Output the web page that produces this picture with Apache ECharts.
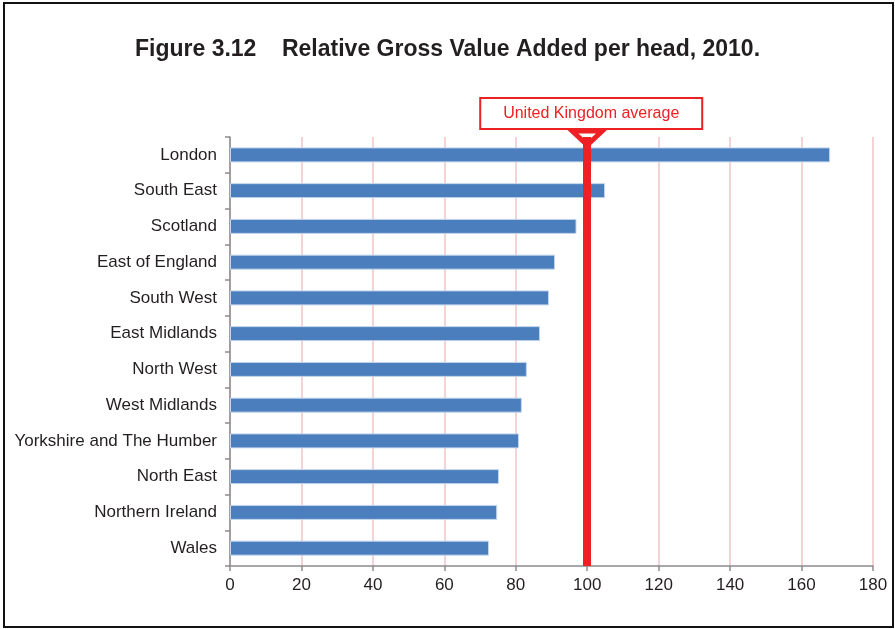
<!DOCTYPE html>
<html>
<head>
<meta charset="utf-8">
<script src="https://cdn.jsdelivr.net/npm/echarts@6/dist/echarts.min.js"></script>
<style>
  html, body { margin: 0; padding: 0; background: #fff; }
  #chart { width: 895px; height: 629px; }
</style>
</head>
<body>
<div id="chart"></div>
<script>
// Regions, top to bottom
const regions = [
  'London', 'South East', 'Scotland', 'East of England', 'South West',
  'East Midlands', 'North West', 'West Midlands', 'Yorkshire and The Humber',
  'North East', 'Northern Ireland', 'Wales'
];
// Gross Value Added per head, UK = 100
const gvaIndex = [168, 105, 97, 91, 89.3, 86.8, 83.1, 81.7, 80.9, 75.3, 74.8, 72.5];
const ukAverage = 100;
const axisMin = 0;
const axisMax = 180;
const axisStep = 20;

const FONT = '"Liberation Sans", Arial, Helvetica, sans-serif';
const RED = '#ed2024';

const chart = echarts.init(document.getElementById('chart'), null, { renderer: 'canvas' });

const option = {
  backgroundColor: '#ffffff',
  animation: false,
  title: {
    text: 'Figure 3.12    Relative Gross Value Added per head, 2010.',
    left: 'center',
    top: 33,
    textStyle: { fontFamily: FONT, fontSize: 23, fontWeight: 'bold', color: '#231f20' }
  },
  grid: { left: 230, right: 22, top: 137, bottom: 63, containLabel: false },
  xAxis: {
    type: 'value',
    min: axisMin,
    max: axisMax,
    interval: axisStep,
    axisLine: { show: true, lineStyle: { color: '#8c8c8c', width: 1.5 } },
    axisTick: { show: true, length: 5, lineStyle: { color: '#8c8c8c', width: 1.5 } },
    axisLabel: { fontFamily: FONT, fontSize: 17, color: '#231f20', margin: 11 },
    splitLine: { show: true, lineStyle: { color: '#efc4c4', width: 1.5 } }
  },
  yAxis: {
    type: 'category',
    data: regions,
    inverse: true,
    axisLine: { show: true, lineStyle: { color: '#8c8c8c', width: 1.5 } },
    axisTick: { show: true, length: 5, lineStyle: { color: '#8c8c8c', width: 1.5 } },
    axisLabel: { fontFamily: FONT, fontSize: 17, color: '#231f20', margin: 13 },
    splitLine: { show: false }
  },
  series: [{
    type: 'bar',
    data: gvaIndex,
    barWidth: 15,
    itemStyle: { color: '#4a7ebd', borderColor: '#c5d6ec', borderWidth: 1 },
    markLine: {
      silent: true,
      symbol: ['none', 'none'],
      label: { show: false },
      lineStyle: { color: RED, width: 8, type: 'solid' },
      data: [{ xAxis: ukAverage }]
    },
    z: 2
  }]
};

chart.setOption(option);

// Annotation: labelled box with a downward pointer above the average line
const px = chart.convertToPixel({ xAxisIndex: 0 }, ukAverage);
const gridTop = 137;
const boxW = 222, boxH = 31;
const boxBottom = gridTop - 8;

chart.setOption({
  graphic: [
    {
      type: 'rect',
      z: 100,
      shape: { x: 4, y: 3, width: 889, height: 624 },
      style: { fill: 'none', stroke: '#111', lineWidth: 2 }
    },
    {
      type: 'rect',
      z: 100,
      shape: { x: px - boxW / 2 + 4, y: boxBottom - boxH, width: boxW, height: boxH },
      style: { fill: '#fff', stroke: RED, lineWidth: 2 }
    },
    {
      type: 'text',
      z: 101,
      x: px + 4,
      y: boxBottom - boxH / 2,
      style: {
        text: 'United Kingdom average',
        fill: RED,
        font: '16px ' + FONT,
        textAlign: 'center',
        textVerticalAlign: 'middle'
      }
    },
    {
      type: 'polygon',
      z: 99,
      shape: { points: [[px - 15, boxBottom + 2], [px + 15, boxBottom + 2], [px, boxBottom + 16]] },
      style: { fill: 'none', stroke: RED, lineWidth: 5, lineJoin: 'miter' }
    }
  ]
});
</script>
</body>
</html>
